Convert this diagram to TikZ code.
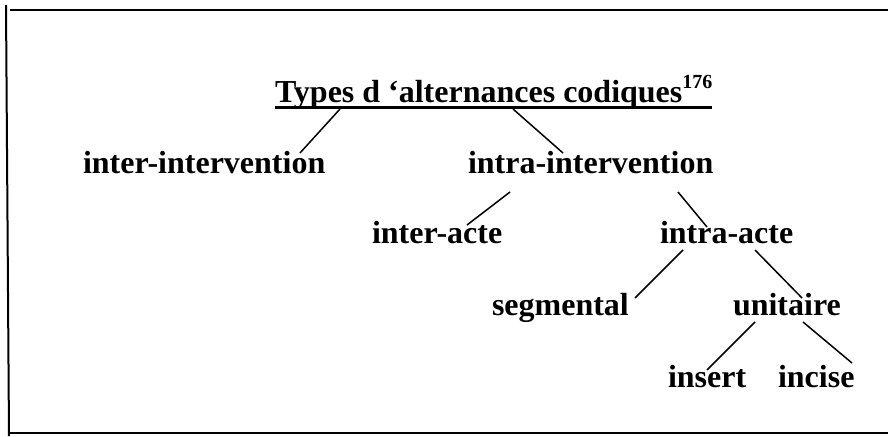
\documentclass[tikz,border=0pt]{standalone}
\usepackage{fontspec}
\setmainfont{Liberation Serif}
\tikzset{
  lbl/.style={anchor=base west, inner sep=0pt, outer sep=0pt,
    font=\fontsize{32}{38}\selectfont\bfseries},
  branch/.style={line width=1.5pt},
  frame/.style={line width=2pt}
}
\begin{document}
\begin{tikzpicture}[x=1pt,y=-1pt]
    \useasboundingbox (0,0) rectangle (888,436);

    % Frame (open on the right)
    \draw[frame] (6,5) -- (9,436);
    \draw[frame] (10,10) -- (888,10);
    \draw[frame] (10,433) -- (888,433);

    % Title
    \node[lbl] (title) at (275,102) {Types d ‘alternances codiques\raisebox{14pt}{\fontsize{20}{20}\selectfont 176}};
    \draw[line width=3pt] ([yshift=-5pt]title.base west) -- ([yshift=-5pt]title.base east);

    % Levels of the tree
    \node[lbl] (interint) at (83,173) {inter-intervention};
    \node[lbl] (intraint) at (468,173) {intra-intervention};
    \node[lbl] (interacte) at (372,243) {inter-acte};
    \node[lbl] (intraacte) at (660,243) {intra-acte};
    \node[lbl] (segm) at (492,315) {segmental};
    \node[lbl] (unit) at (733,315) {unitaire};
    \node[lbl] (insert) at (668,387) {insert};
    \node[lbl] (incise) at (778,387) {incise};

    % Branches
    \draw[branch] ([shift={(65,7)}]title.base west) -- ([shift={(217,-20)}]interint.base west);
    \draw[branch] ([shift={(238,7)}]title.base west) -- ([shift={(95,-20)}]intraint.base west);
    \draw[branch] ([shift={(42,19)}]intraint.base west) -- ([shift={(95,-18)}]interacte.base west);
    \draw[branch] ([shift={(210,19)}]intraint.base west) -- ([shift={(47,-16)}]intraacte.base west);
    \draw[branch] ([shift={(23,7)}]intraacte.base west) -- ([shift={(143,-17)}]segm.base west);
    \draw[branch] ([shift={(95,7)}]intraacte.base west) -- ([shift={(69,-17)}]unit.base west);
    \draw[branch] ([shift={(22,7)}]unit.base west) -- ([shift={(39,-17)}]insert.base west);
    \draw[branch] ([shift={(70,7)}]unit.base west) -- ([shift={(74,-24)}]incise.base west);
\end{tikzpicture}
\end{document}
